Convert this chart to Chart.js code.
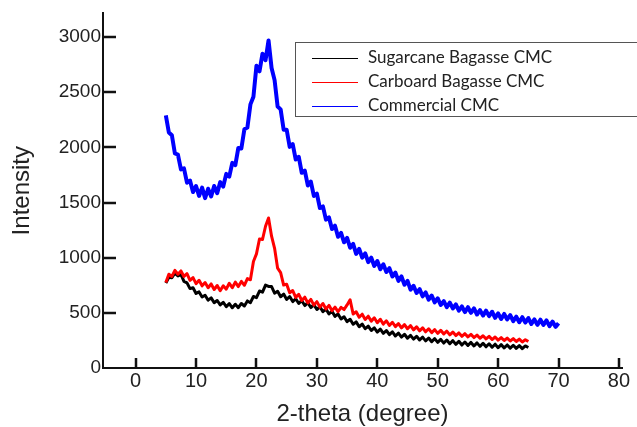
<!DOCTYPE html>
<html>
<head>
<meta charset="utf-8">
<script src="https://cdn.jsdelivr.net/npm/chart.js@4.4.1/dist/chart.umd.min.js"></script>
<style>
  html, body { margin: 0; padding: 0; background: #fff; }
  #wrap { width: 637px; height: 427px; }
</style>
</head>
<body>
<div id="wrap"><canvas id="xrd" width="637" height="427"></canvas></div>
<script>
// scan angles (2-theta, degree)
const twoTheta = [
  5, 5.5, 6, 6.5, 7, 7.5, 8, 8.5, 9, 9.5,
  10, 10.5, 11, 11.5, 12, 12.5, 13, 13.5, 14, 14.5,
  15, 15.5, 16, 16.5, 17, 17.5, 18, 18.5, 19, 19.5,
  20, 20.5, 21, 21.5, 22, 22.5, 23, 23.5, 24, 24.5,
  25, 25.5, 26, 26.5, 27, 27.5, 28, 28.5, 29, 29.5,
  30, 30.5, 31, 31.5, 32, 32.5, 33, 33.5, 34, 34.5,
  35, 35.5, 36, 36.5, 37, 37.5, 38, 38.5, 39, 39.5,
  40, 40.5, 41, 41.5, 42, 42.5, 43, 43.5, 44, 44.5,
  45, 45.5, 46, 46.5, 47, 47.5, 48, 48.5, 49, 49.5,
  50, 50.5, 51, 51.5, 52, 52.5, 53, 53.5, 54, 54.5,
  55, 55.5, 56, 56.5, 57, 57.5, 58, 58.5, 59, 59.5,
  60, 60.5, 61, 61.5, 62, 62.5, 63, 63.5, 64, 64.5,
  65, 65.5, 66, 66.5, 67, 67.5, 68, 68.5, 69, 69.5,
  70
];

// Sugarcane Bagasse CMC (5 - 65)
const sugarcane = [
  770, 822, 818, 862, 835, 848, 785, 772, 720, 728,
  676, 690, 644, 660, 615, 636, 592, 612, 572, 596,
  556, 584, 546, 578, 547, 585, 562, 608, 592, 648,
  638, 698, 688, 752, 740, 738, 678, 695, 646, 670,
  622, 648, 602, 628, 585, 610, 566, 592, 548, 574,
  530, 556, 510, 536, 490, 514, 468, 490, 444, 465,
  420, 442, 396, 418, 374, 398, 356, 380, 340, 364,
  326, 352, 314, 340, 302, 328, 290, 316, 280, 306,
  270, 296, 262, 288, 254, 280, 246, 272, 238, 266,
  232, 260, 226, 254, 220, 248, 214, 242, 208, 236,
  204, 232, 200, 228, 196, 224, 192, 220, 188, 216,
  184, 212, 182, 209, 180, 206, 178, 203, 176, 200,
  186
];

// Carboard Bagasse CMC (5 - 65)
const carboard = [
  775, 850, 830, 885, 850, 880, 830, 855, 795, 820,
  765, 795, 745, 775, 728, 762, 712, 748, 700, 745,
  715, 768, 728, 778, 738, 785, 750, 810, 800, 965,
  1035, 1170, 1165, 1285, 1360, 1195, 1085, 905, 865, 752,
  760, 682, 702, 640, 668, 612, 642, 590, 622, 570,
  602, 552, 585, 535, 568, 520, 552, 510, 550, 530,
  572, 618, 490, 510, 460, 488, 440, 470, 425, 455,
  410, 442, 398, 428, 386, 415, 375, 403, 364, 393,
  356, 384, 346, 374, 337, 365, 328, 356, 320, 348,
  314, 342, 308, 334, 300, 326, 294, 318, 287, 311,
  282, 305, 276, 298, 270, 292, 264, 287, 258, 281,
  253, 276, 249, 271, 245, 266, 240, 262, 236, 257,
  240
];

// Commercial CMC (5 - 70)
const commercial = [
  2290, 2135, 2110, 1945, 1935, 1800, 1810, 1680, 1700, 1595,
  1650, 1560, 1635, 1540, 1625, 1555, 1650, 1585, 1685, 1645,
  1760, 1735, 1860, 1840, 1995, 1990, 2165, 2180, 2390, 2460,
  2740, 2690, 2850, 2790, 2970, 2720, 2610, 2370, 2345, 2160,
  2160, 2005, 2030, 1890, 1915, 1770, 1790, 1655, 1690, 1560,
  1580, 1450, 1465, 1345, 1365, 1260, 1290, 1190, 1225, 1140,
  1180, 1090, 1125, 1035, 1080, 1000, 1040, 960, 1000, 925,
  970, 895, 940, 870, 905, 830, 865, 790, 830, 755,
  790, 710, 745, 680, 715, 650, 685, 620, 657, 595,
  632, 571, 606, 552, 593, 540, 577, 520, 558, 507,
  551, 500, 540, 485, 525, 475, 520, 470, 510, 455,
  495, 445, 490, 440, 480, 425, 465, 415, 461, 412,
  453, 399, 440, 391, 438, 390, 432, 379, 421, 373,
  406
];

const xTicks = [0, 10, 20, 30, 40, 50, 60, 70, 80];
const yTicks = [0, 500, 1000, 1500, 2000, 2500, 3000];

function pts(vals) {
  return vals.map((v, i) => ({ x: twoTheta[i], y: v }));
}

// ticks drawn inward from the axes, like the original plot
const innerTicks = {
  id: 'innerTicks',
  afterDraw(chart) {
    const { ctx, chartArea: a, scales } = chart;
    ctx.save();
    ctx.strokeStyle = '#111';
    ctx.lineWidth = 2.5;
    ctx.beginPath();
    yTicks.forEach(v => {
      if (v === 0) return;
      const y = Math.round(scales.y.getPixelForValue(v));
      ctx.moveTo(a.left, y);
      ctx.lineTo(a.left + 13, y);
    });
    xTicks.forEach(v => {
      const x = Math.round(scales.x.getPixelForValue(v));
      ctx.moveTo(x, a.bottom);
      ctx.lineTo(x, a.bottom - 10);
    });
    ctx.stroke();
    ctx.restore();
  }
};

// boxed legend at top right (runs off the right edge in the original)
const boxLegend = {
  id: 'boxLegend',
  afterDraw(chart) {
    const ctx = chart.ctx;
    ctx.save();
    ctx.strokeStyle = '#555';
    ctx.lineWidth = 1;
    ctx.strokeRect(295.5, 42.5, 360, 74);
    ctx.font = '17px Lato, "Liberation Sans", sans-serif';
    ctx.textBaseline = 'middle';
    ctx.fillStyle = '#222';
    chart.data.datasets.forEach((ds, i) => {
      const y = 58 + i * 24;
      ctx.strokeStyle = ds.borderColor;
      ctx.lineWidth = 1;
      ctx.beginPath();
      ctx.moveTo(312, y + 0.5);
      ctx.lineTo(358, y + 0.5);
      ctx.stroke();
      ctx.fillText(ds.label, 368, y);
    });
    ctx.restore();
  }
};

new Chart(document.getElementById('xrd'), {
  type: 'line',
  data: {
    datasets: [
      { label: 'Sugarcane Bagasse CMC', data: pts(sugarcane), borderColor: '#000000', borderWidth: 3, order: 1 },
      { label: 'Carboard Bagasse CMC', data: pts(carboard), borderColor: '#ff0000', borderWidth: 3, order: 0 },
      { label: 'Commercial CMC', data: pts(commercial), borderColor: '#0000ff', borderWidth: 4, order: 2 }
    ]
  },
  options: {
    responsive: false,
    animation: false,
    layout: { padding: { top: 12, right: 15, left: 0, bottom: 0 } },
    elements: {
      point: { radius: 0 },
      line: { tension: 0, borderJoinStyle: 'round' }
    },
    plugins: {
      legend: { display: false },
      tooltip: { enabled: false }
    },
    scales: {
      x: {
        type: 'linear',
        min: -5.4,
        max: 80.5,
        afterBuildTicks: s => { s.ticks = xTicks.map(v => ({ value: v })); },
        afterFit: s => { s.height = 59; },
        grid: { display: false, drawTicks: false },
        border: { display: true, color: '#111', width: 2 },
        ticks: {
          color: '#222',
          padding: 1,
          maxRotation: 0,
          callback: v => String(v),
          font: { family: 'Liberation Sans, Arial, sans-serif', size: 20 }
        },
        title: {
          display: true,
          text: '2-theta (degree)',
          color: '#222',
          padding: { top: 0, bottom: 1 },
          font: { family: 'Liberation Sans, Arial, sans-serif', size: 24, lineHeight: 1 }
        }
      },
      y: {
        type: 'linear',
        min: 0,
        max: 3215,
        afterBuildTicks: s => { s.ticks = yTicks.map(v => ({ value: v })); },
        afterFit: s => { s.width = 103; },
        grid: { display: false, drawTicks: false },
        border: { display: true, color: '#111', width: 2 },
        ticks: {
          color: '#222',
          padding: 2,
          callback: v => String(v),
          font: { family: 'Liberation Sans, Arial, sans-serif', size: 19 }
        },
        title: {
          display: true,
          text: 'Intensity',
          color: '#222',
          padding: { top: 10, bottom: 0 },
          font: { family: 'Liberation Sans, Arial, sans-serif', size: 24, lineHeight: 1 }
        }
      }
    }
  },
  plugins: [innerTicks, boxLegend]
});
</script>
</body>
</html>
